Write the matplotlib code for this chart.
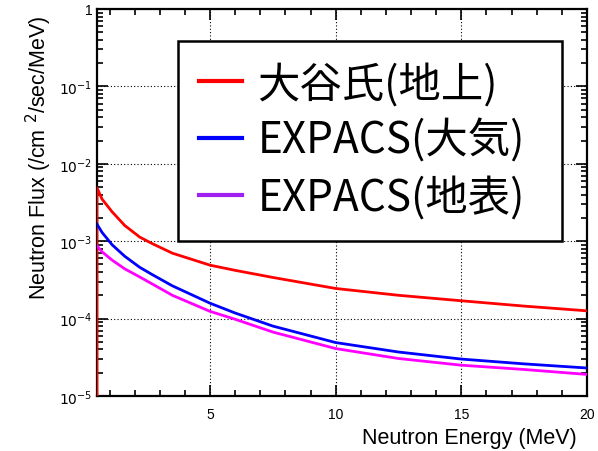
import numpy as np
import matplotlib
matplotlib.use("Agg")
import matplotlib.pyplot as plt
from matplotlib.lines import Line2D
from matplotlib.ticker import FixedLocator, FuncFormatter, MultipleLocator, LogLocator

# Neutron energy (MeV) and flux (/cm2/sec/MeV)
energy = [0.5, 0.7, 1.1, 1.6, 2.2, 2.7, 3.5, 5.0, 6.0, 7.5, 10.0, 12.5, 15.0, 17.5, 20.0]
flux_otani = [4.9e-3, 3.5e-3, 2.4e-3, 1.6e-3, 1.13e-3, 9.3e-4, 7.0e-4, 4.9e-4, 4.2e-4,
              3.4e-4, 2.45e-4, 2.0e-4, 1.7e-4, 1.45e-4, 1.26e-4]
flux_expacs_air = [1.66e-3, 1.3e-3, 9.0e-4, 6.4e-4, 4.6e-4, 3.7e-4, 2.65e-4, 1.58e-4, 1.18e-4,
                   8.0e-5, 4.9e-5, 3.7e-5, 3.0e-5, 2.6e-5, 2.3e-5]
flux_expacs_ground = [8.7e-4, 7.3e-4, 5.7e-4, 4.4e-4, 3.45e-4, 2.8e-4, 2.0e-4, 1.24e-4, 9.8e-5,
                      6.7e-5, 4.1e-5, 3.05e-5, 2.5e-5, 2.2e-5, 1.9e-5]

labels = ["大谷氏(地上)", "EXPACS(大気)", "EXPACS(地表)"]
line_colors = ["#ff0000", "#0000ff", "#ff00ff"]
legend_colors = ["#ff0000", "#0000ff", "#a020f0"]

plt.rcParams["font.family"] = ["Liberation Sans", "DejaVu Sans"]

fig = plt.figure(figsize=(5.98, 4.52), dpi=100)
ax = fig.add_axes([97 / 598, 55 / 452, 490 / 598, 387 / 452])

# red curve drops to the floor at the first bin (vertical edge)
ax.plot([energy[0]] + energy, [1e-7] + flux_otani, color=line_colors[0], lw=2, zorder=3)
ax.plot(energy, flux_expacs_air, color=line_colors[1], lw=2, zorder=3)
ax.plot(energy, flux_expacs_ground, color=line_colors[2], lw=2, zorder=3)

ax.set_yscale("log")
ax.set_xlim(0.5, 20)
ax.set_ylim(1e-5, 1)

ax.xaxis.set_major_locator(FixedLocator([5, 10, 15, 20]))
ax.xaxis.set_minor_locator(MultipleLocator(1))
ax.yaxis.set_major_locator(LogLocator(base=10, numticks=10))
ax.yaxis.set_minor_locator(LogLocator(base=10, subs=np.arange(2, 10), numticks=10))


def ylab(v, pos):
    e = int(round(np.log10(v)))
    if e == 0:
        return "1"
    return r"$10^{%d}$" % e


ax.yaxis.set_major_formatter(FuncFormatter(ylab))
ax.yaxis.set_minor_formatter(FuncFormatter(lambda v, p: ""))

ax.tick_params(which="both", direction="in", top=True, right=True, width=1.2, labelsize=10)
ax.tick_params(which="major", length=8)
ax.tick_params(which="minor", length=4.5)
ax.tick_params(axis="x", pad=8)
for s in ax.spines.values():
    s.set_linewidth(1.6)

ax.grid(True, which="major", linestyle=(0, (1, 2)), color="black", lw=0.8)
ax.set_axisbelow(True)

ax.set_xlabel("Neutron Energy (MeV)", fontsize=15.5, loc="right")
ax.xaxis.set_label_coords(0.98, -0.08)
ax.set_ylabel(r"Neutron Flux (/cm $^{2}$/sec/MeV)", fontsize=15.5, loc="top")
ax.yaxis.set_label_coords(-0.088, 0.985)

handles = [Line2D([], [], color=c, lw=3) for c in legend_colors]
x0, x1 = 178 / 598, 562 / 598
leg = ax.legend(handles, labels, loc="upper left", mode="expand",
                bbox_to_anchor=(x0, 1 - 236 / 452, x1 - x0, 194 / 452), bbox_transform=fig.transFigure,
                prop={"family": ["Noto Sans CJK JP", "DejaVu Sans"], "size": 30.5},
                frameon=True, fancybox=False, edgecolor="black", framealpha=1,
                borderaxespad=0, handlelength=1.0, handletextpad=0.38,
                labelspacing=0.3, borderpad=0.5)
leg.get_frame().set_linewidth(1.8)

fig.savefig("out.png", dpi=100)
